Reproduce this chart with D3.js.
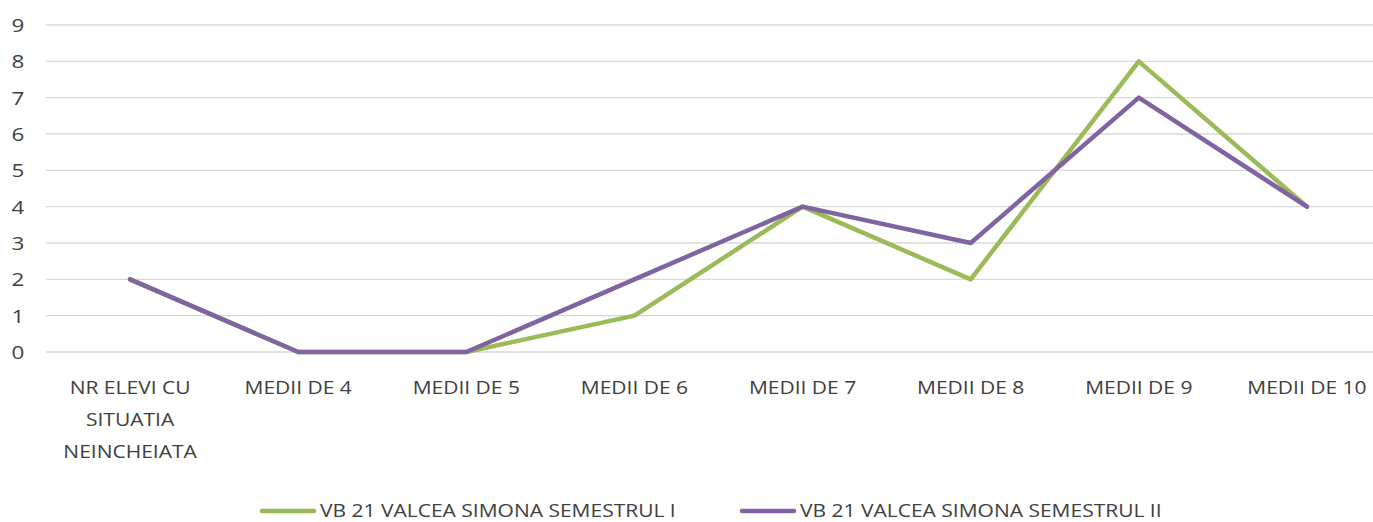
<!DOCTYPE html>
<html>
<head>
<meta charset="utf-8">
<script src="https://cdn.jsdelivr.net/npm/d3@7"></script>
<style>
  body { margin: 0; background: #fff; }
  text { font-family: 'Open Sans', sans-serif; fill: #404040; }
</style>
</head>
<body>
<svg id="chart"></svg>
<script>
// chart data
var categories = ['NR ELEVI CU|SITUATIA|NEINCHEIATA', 'MEDII DE 4', 'MEDII DE 5', 'MEDII DE 6',
  'MEDII DE 7', 'MEDII DE 8', 'MEDII DE 9', 'MEDII DE 10']
var sem1 = [2, 0, 0, 1, 4, 2, 8, 4]
var sem2 = [2, 0, 0, 2, 4, 3, 7, 4]
var yTicks = [0, 1, 2, 3, 4, 5, 6, 7, 8, 9]
var seriesNames = ['VB 21 VALCEA SIMONA SEMESTRUL I', 'VB 21 VALCEA SIMONA SEMESTRUL II']

var W = 1373
var H = 522
var margin = {top: 25, left: 46}
var plotW = 1345
var plotH = 327
var stretch = 1.18 // the original text is wider than Open Sans

var svg = d3.select('#chart')
    .attr('width', W)
    .attr('height', H)

var x = d3.scaleBand()
    .domain(categories)
    .range([margin.left, margin.left + plotW])

var y = d3.scaleLinear()
    .domain([0, 9])
    .range([margin.top + plotH, margin.top])

// places a horizontally stretched text at (px, py)
function label (parent, px, py, str, anchor, size) {
  return parent.append('text')
      .attr('transform', 'translate(' + px + ',' + py + ') scale(' + stretch + ',1)')
      .attr('text-anchor', anchor)
      .attr('dy', '0.36em')
      .style('font-size', size + 'px')
      .text(str)
}

// gridlines
svg.append('g')
  .selectAll('line')
    .data(yTicks)
  .enter().append('line')
    .attr('x1', margin.left)
    .attr('x2', W)
    .attr('y1', function (d) { return y(d) })
    .attr('y2', function (d) { return y(d) })
    .attr('stroke', '#d9d9d9')
    .attr('stroke-width', 1.3)

// y axis labels
var yg = svg.append('g')
yTicks.forEach(function (d) {
  label(yg, 18, y(d), d, 'middle', 19)
})

// x axis labels
var xg = svg.append('g')
categories.forEach(function (d) {
  d.split('|').forEach(function (part, i) {
    label(xg, x(d) + x.bandwidth() / 2, 388 + i * 32, part, 'middle', 17.8)
  })
})

// lines
var line = d3.line()
    .x(function (d, i) { return x(categories[i]) + x.bandwidth() / 2 })
    .y(function (d) { return y(d) })

var colors = ['#9bbb59', '#8064a2']
;[sem1, sem2].forEach(function (s, i) {
  svg.append('path')
      .datum(s)
      .attr('fill', 'none')
      .attr('stroke', colors[i])
      .attr('stroke-width', 4.5)
      .attr('stroke-linejoin', 'round')
      .attr('stroke-linecap', 'round')
      .attr('d', line)
})

// legend
var legendX = [262, 742]
seriesNames.forEach(function (name, i) {
  var g = svg.append('g').attr('transform', 'translate(' + legendX[i] + ',511)')
  g.append('line')
      .attr('x1', 0).attr('x2', 52)
      .attr('stroke', colors[i])
      .attr('stroke-width', 4.5)
      .attr('stroke-linecap', 'round')
  label(g, 58, 0, name, 'start', 17.8)
})
</script>
</body>
</html>
